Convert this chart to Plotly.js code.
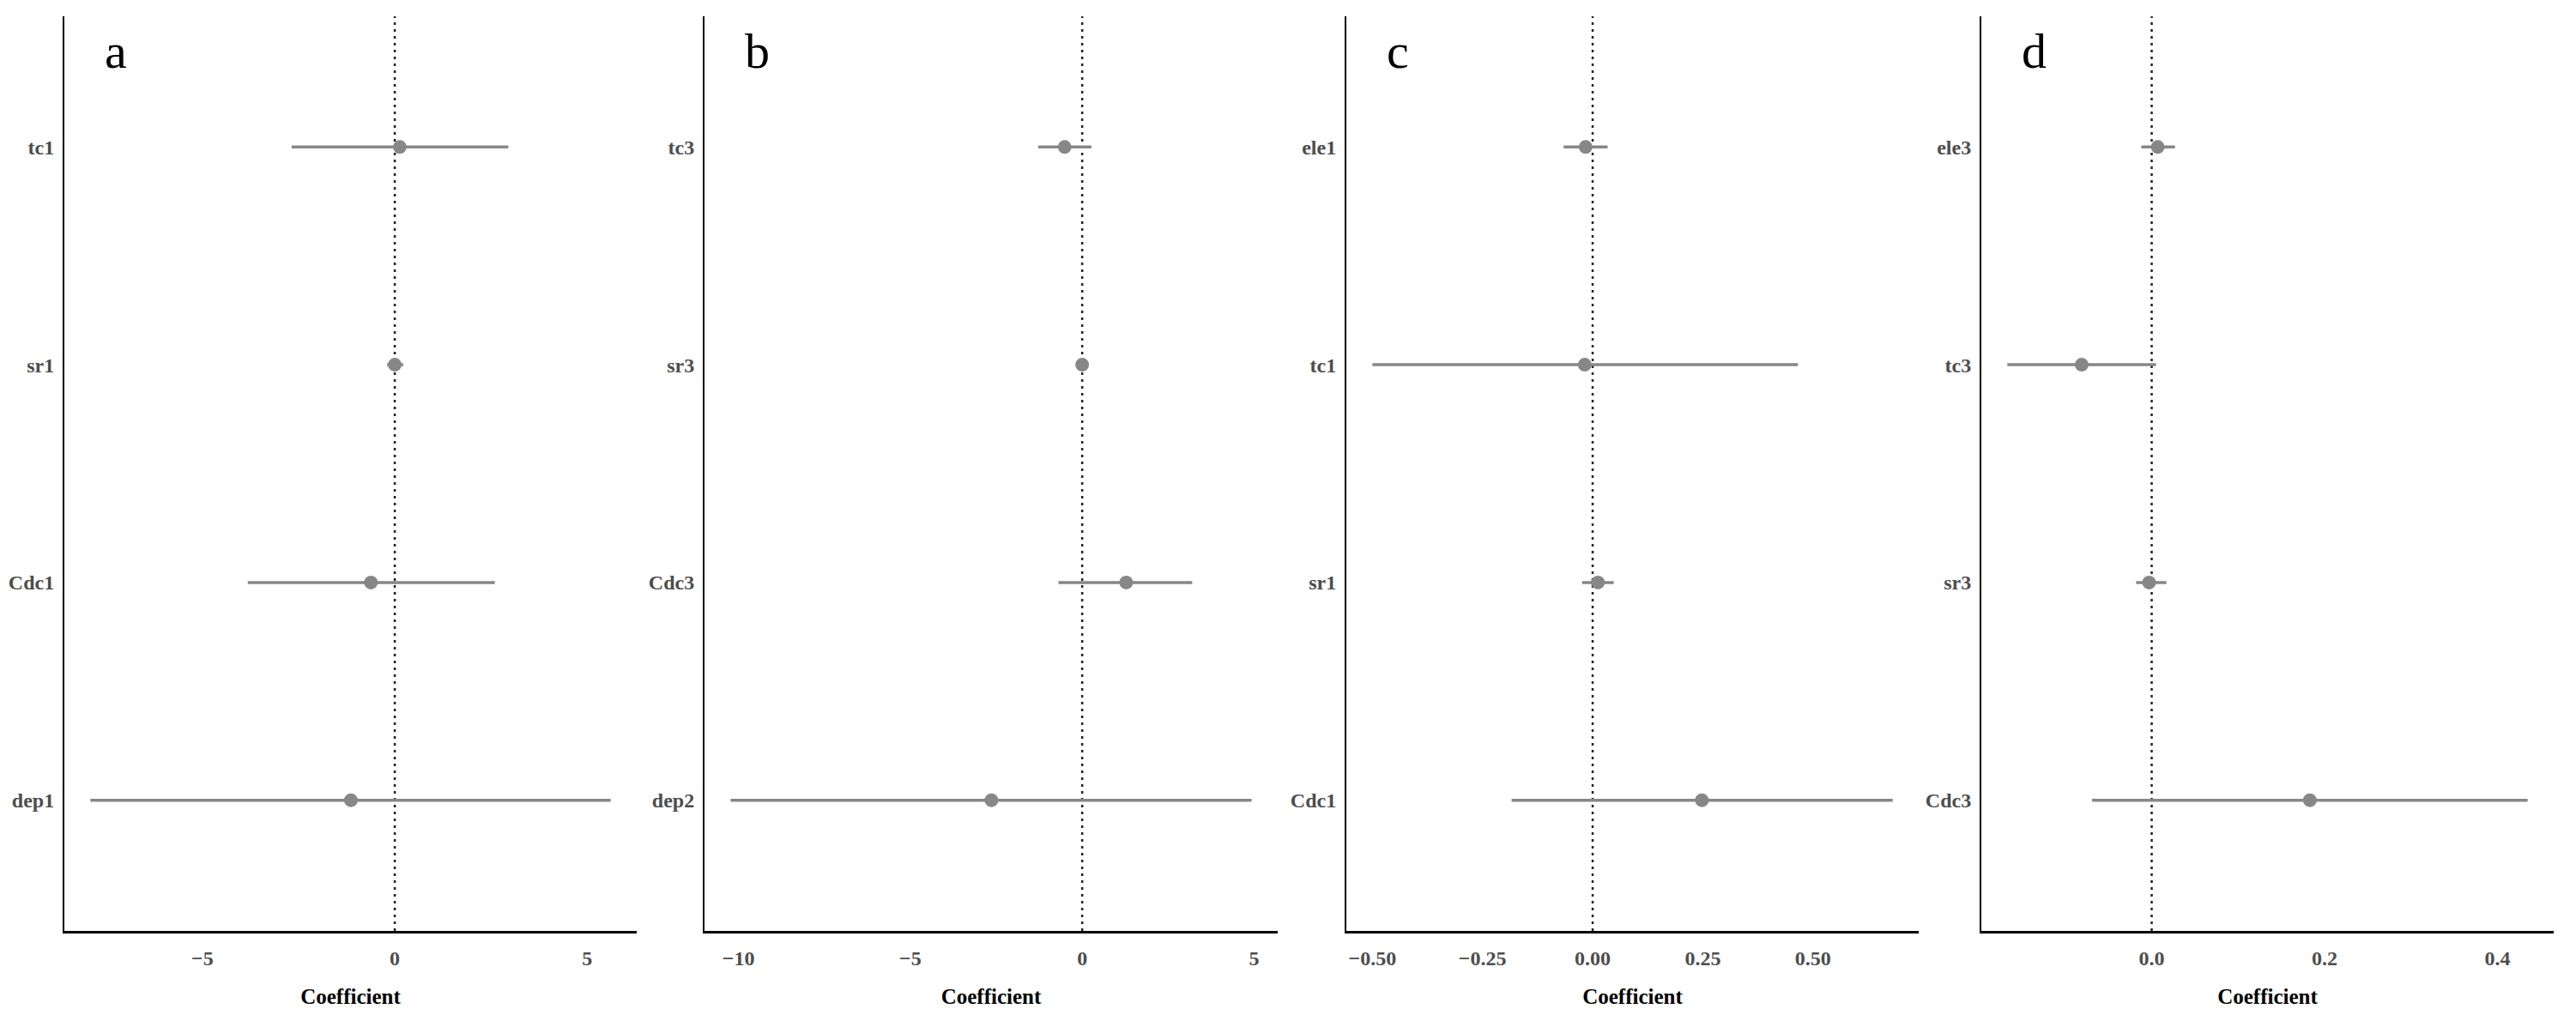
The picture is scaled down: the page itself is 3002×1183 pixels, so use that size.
<!DOCTYPE html>
<html>
<head>
<meta charset="utf-8">
<script src="https://cdn.plot.ly/plotly-3.0.1.min.js"></script>
<style>html,body{margin:0;padding:0;background:#fff;}#chart{width:3002px;height:1183px;}</style>
</head>
<body>
<div id="chart"></div>
<script>
// ---- data ----
const panelLetters = ['a', 'b', 'c', 'd'];

const catsA = ['tc1', 'sr1', 'Cdc1', 'dep1'];
const estA  = [0.13, 0.00, -0.62, -1.14];
const loA   = [-2.68, -0.20, -3.82, -7.91];
const hiA   = [2.95, 0.22, 2.60, 5.61];
const ticksA = [-5, 0, 5];
const tickTextA = ['\u22125', '0', '5'];

const catsB = ['tc3', 'sr3', 'Cdc3', 'dep2'];
const estB  = [-0.51, 0.00, 1.28, -2.64];
const loB   = [-1.28, -0.10, -0.69, -10.23];
const hiB   = [0.27, 0.10, 3.20, 4.93];
const ticksB = [-10, -5, 0, 5];
const tickTextB = ['\u221210', '\u22125', '0', '5'];

const catsC = ['ele1', 'tc1', 'sr1', 'Cdc1'];
const estC  = [-0.016, -0.018, 0.012, 0.248];
const loC   = [-0.066, -0.500, -0.024, -0.184];
const hiC   = [0.034, 0.466, 0.048, 0.681];
const ticksC = [-0.5, -0.25, 0, 0.25, 0.5];
const tickTextC = ['\u22120.50', '\u22120.25', '0.00', '0.25', '0.50'];

const catsD = ['ele3', 'tc3', 'sr3', 'Cdc3'];
const estD  = [0.007, -0.081, -0.003, 0.183];
const loD   = [-0.012, -0.167, -0.018, -0.069];
const hiD   = [0.027, 0.005, 0.017, 0.435];
const ticksD = [0, 0.2, 0.4];
const tickTextD = ['0.0', '0.2', '0.4'];

// ---- styling / layout ----
const panels = [
  {cats: catsA, est: estA, lo: loA, hi: hiA, tv: ticksA, tt: tickTextA},
  {cats: catsB, est: estB, lo: loB, hi: hiB, tv: ticksB, tt: tickTextB},
  {cats: catsC, est: estC, lo: loC, hi: hiC, tv: ticksC, tt: tickTextC},
  {cats: catsD, est: estD, lo: loD, hi: hiD, tv: ticksD, tt: tickTextD}
];
const W = 3002;
const domains = [[75, 742], [821, 1489], [1569, 2236], [2309, 2976]];
const FONT = 'Liberation Serif, Times New Roman, serif';
const grey = '#878787';

const data = [];
const layout = {
  width: 3002, height: 1183,
  margin: {l: 0, r: 0, t: 19, b: 98},
  paper_bgcolor: '#ffffff', plot_bgcolor: '#ffffff',
  showlegend: false,
  font: {family: FONT},
  shapes: [], annotations: []
};

panels.forEach((p, i) => {
  const sfx = i === 0 ? '' : String(i + 1);
  const xa = 'x' + sfx, ya = 'y' + sfx;
  data.push({
    type: 'scatter', mode: 'markers',
    x: p.est, y: p.cats,
    xaxis: xa, yaxis: ya,
    marker: {size: 16, color: grey},
    error_x: {
      type: 'data', symmetric: false,
      array: p.hi.map((h, k) => h - p.est[k]),
      arrayminus: p.lo.map((l, k) => p.est[k] - l),
      width: 0, thickness: 3.5, color: grey
    },
    hoverinfo: 'x+y'
  });
  const mn = Math.min(...p.lo), mx = Math.max(...p.hi);
  const pad = (mx - mn) * 0.05;
  layout['xaxis' + sfx] = {
    domain: [domains[i][0] / W, domains[i][1] / W],
    anchor: ya,
    range: [mn - pad, mx + pad],
    showgrid: false, zeroline: false,
    showline: true, linecolor: '#000', linewidth: 3,
    ticks: '', tickvals: p.tv, ticktext: p.tt,
    ticklabelstandoff: 8,
    tickfont: {family: FONT, size: 24, color: '#4d4d4d', weight: 'bold'},
    title: {text: 'Coefficient', standoff: 24,
            font: {family: FONT, size: 25, color: '#000', weight: 'bold'}}
  };
  layout['yaxis' + sfx] = {
    domain: [0, 1],
    anchor: xa,
    type: 'category',
    categoryorder: 'array', categoryarray: p.cats,
    range: [p.cats.length - 1 + 0.6, -0.6],
    showgrid: false, zeroline: false,
    showline: true, linecolor: '#000', linewidth: 2,
    ticks: '', ticklabelstandoff: 5,
    tickfont: {family: FONT, size: 24, color: '#4d4d4d', weight: 'bold'}
  };
  layout.shapes.push({
    type: 'line', xref: xa, yref: ya + ' domain',
    x0: 0, x1: 0, y0: 0, y1: 1,
    line: {color: '#222', width: 2.5, dash: '3px,5px'},
    layer: 'below'
  });
  layout.annotations.push({
    xref: xa + ' domain', yref: ya + ' domain',
    x: 0.068, y: 0.962, xanchor: 'left', yanchor: 'middle',
    text: panelLetters[i], showarrow: false,
    font: {family: FONT, size: 58, color: '#000'}
  });
});

Plotly.newPlot('chart', data, layout, {displayModeBar: false, responsive: false});
</script>
</body>
</html>
